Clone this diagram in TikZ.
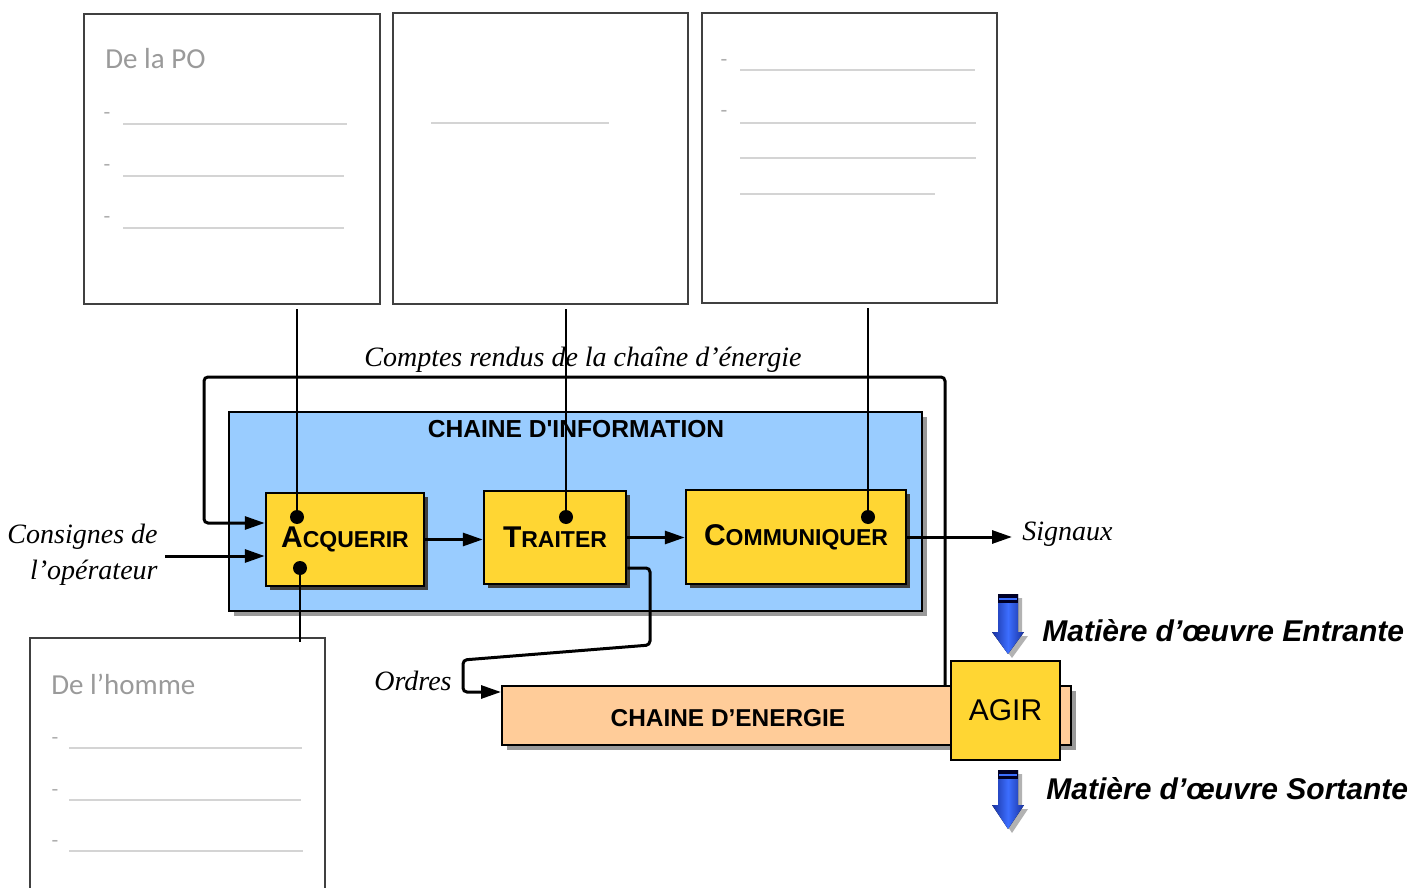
\documentclass[tikz,border=0pt]{standalone}
\usepackage{fontspec}
\setsansfont{Liberation Sans}
\newfontfamily\calib{Carlito}
\newfontfamily\tms{Liberation Serif}
\usetikzlibrary{positioning,shadows,arrows.meta,calc}

\definecolor{infoblue}{HTML}{99CCFF}
\definecolor{fnyellow}{HTML}{FFD633}
\definecolor{nrjorange}{HTML}{FFCC99}
\definecolor{hintgray}{HTML}{9A9A9A}
\definecolor{rulegray}{HTML}{D4D4D4}
\definecolor{flowedge}{RGB}{25,50,160}
\definecolor{flowmid}{RGB}{60,110,255}

% fausses petites capitales des fonctions
\newcommand\fsc[2]{{\fontsize{15}{15}\selectfont #1}{\fontsize{11.5}{11.5}\selectfont #2}}

\begin{document}
\begin{tikzpicture}[x=0.5pt, y=-0.5pt, >={Triangle[length=10pt,width=6.5pt]},
  notebox/.style={draw=black!75, line width=1pt, fill=white, inner sep=0pt, anchor=north west},
  blankline/.style={draw=rulegray, line width=1pt},
  hint/.style={text=hintgray, font=\calib\fontsize{14.5}{14.5}\selectfont, anchor=west, inner sep=0pt},
  hintdash/.style={text=hintgray!80, font=\calib\fontsize{11}{11}\selectfont, inner sep=0pt},
  fnbox/.style={draw=black, line width=1.25pt, fill=fnyellow, inner sep=0pt, font=\sffamily\bfseries,
    drop shadow={shadow xshift=2pt, shadow yshift=-2pt, fill=black!75, opacity=1}},
  chainbox/.style={draw=black, line width=0.8pt, inner sep=0pt, anchor=north west,
    drop shadow={shadow xshift=2.5pt, shadow yshift=-2.5pt, fill=black!40, opacity=1}},
  flow/.style={->, line width=1.5pt},
  link/.style={line width=0.75pt},
  joint/.style={circle, fill=black, inner sep=0pt, minimum size=7pt},
  lbl/.style={font=\tms\itshape\fontsize{14}{18}\selectfont, inner sep=0pt},
  matiere/.style={font=\sffamily\bfseries\itshape\fontsize{15}{15}\selectfont, anchor=west, inner sep=0pt},
  supply/.style={left color=flowedge, right color=flowedge, middle color=flowmid}]
  \useasboundingbox (0,0) rectangle (1410,888);

  % 1. Cadres a completer (haut)
  \node[notebox, minimum width=148pt, minimum height=145pt] (po) at (83,13) {};
  \node[notebox, minimum width=147.5pt, minimum height=145.5pt] (trtnote) at (392,12) {};
  \node[notebox, minimum width=147.5pt, minimum height=145pt] (comnote) at (701,12) {};

  \node[hint] (pot) at (105,59) {De la PO};
  \foreach \y/\e in {124/347,176/344,228/344} {
    \node[hintdash] at (107,\y-8) {-};
    \draw[blankline] (123,\y) -- (\e,\y);
  }
  \draw[blankline] (431,123) -- (609,123);
  \foreach \y in {63,114} \node[hintdash] at (724,\y) {-};
  \foreach \y/\e in {70/975,123/976,158/976,194/935}
    \draw[blankline] (740,\y) -- (\e,\y);

  % 2. Cadre a completer (bas)
  \draw[line width=1pt, draw=black!75] (30,888) -- (30,638) -- (325,638) -- (325,888);
  \coordinate (homtop) at (300,642);
  \node[hint] (homt) at (51,684) {De l’homme};
  \foreach \y/\e in {748/302,800/301,851/303} {
    \node[hintdash] at (55,\y-7) {-};
    \draw[blankline] (69,\y) -- (\e,\y);
  }

  % 3. Chaine d'information
  \node[chainbox, fill=infoblue, minimum width=346.5pt, minimum height=99.5pt] (info) at (228,411) {};
  \node[font=\sffamily\bfseries\fontsize{12.3}{12.3}\selectfont, inner sep=0pt] (infot) at (576,429) {CHAINE D\textquotesingle INFORMATION};
  \node[fnbox, minimum width=79pt, minimum height=46.5pt] (acq) at (345,539.5) {\fsc{A}{CQUERIR}};
  \node[fnbox, minimum width=71pt, minimum height=46.5pt] (trt) at (555,537.5) {\fsc{T}{RAITER}};
  \node[fnbox, minimum width=110pt, minimum height=47pt] (com) at (796,537) {\fsc{C}{OMMUNIQUER}};

  % 4. Chaine d'energie
  \node[chainbox, fill=nrjorange, minimum width=284.5pt, minimum height=29.5pt] (nrj) at (501,685) {};
  \node[font=\sffamily\bfseries\fontsize{12.2}{12.2}\selectfont, inner sep=0pt] (nrjt) at (728,718) {CHAINE D’ENERGIE};
  \node[draw=black, line width=1.25pt, fill=fnyellow, inner sep=0pt, minimum width=54.5pt, minimum height=49.5pt,
        font=\sffamily\fontsize{15}{15}\selectfont] (agir) at (1005.5,710.5) {\raisebox{-1.5pt}{AGIR}};

  % 5. Textes
  \node[lbl] (crt) at (583,360) {Comptes rendus de la chaîne d’énergie};
  \node[lbl, align=right, anchor=east] (csgt) at (158,555) {Consignes de\\l’opérateur};
  \node[lbl, anchor=west] (sig) at (1022,534) {Signaux};
  \node[lbl, anchor=east] (ordt) at (452,681) {Ordres};
  \node[matiere] (mde) at (1042,631) {Matière d’œuvre Entrante};
  \node[matiere] (mds) at (1046,789) {Matière d’œuvre Sortante};

  % 6. Liaisons
  \coordinate (fbin) at (204,523);
  \draw[flow, rounded corners=2pt] (nrj.north -| 945,0) -- (945,377) -- (204,377) -- (fbin) -- (fbin -| acq.west);
  \coordinate (csg) at (165,556);
  \draw[flow] (csg) -- (csg -| acq.west);
  \draw[flow] (acq.east) -- (acq.east -| trt.west);
  \draw[flow] (trt.east) -- (trt.east -| com.west);
  \draw[flow, shorten >=5pt] (com.east) -- (com.east -| sig.west);
  \coordinate (ordbend) at (650,568);
  \coordinate (ordin) at (463,692);
  \draw[flow, rounded corners=2pt] (ordbend -| trt.east) -- (ordbend) -- (650,645) -- (463,660) -- (ordin) -- (ordin -| nrj.west);

  % 7. Matiere d'oeuvre (fleches bleues)
  \foreach \t/\h/\p in {594/632/654, 770/805/829} {
    \fill[black!30, shift={(4,4)}] (998,\t) -- (1018,\t) -- (1018,\h) -- (1024,\h) -- (1008,\p) -- (992,\h) -- (998,\h) -- cycle;
    \fill[supply] (998,\t) -- (1018,\t) -- (1018,\h) -- (1024,\h) -- (1008,\p) -- (992,\h) -- (998,\h) -- cycle;
    \fill[black!85!blue] (998,\t) rectangle (1018,\t+9);
    \draw[flowmid, line width=0.6pt] (999,\t+5) -- (1017,\t+5);
  }

  % 8. Renvois vers les cadres
  \node[joint] (jacq) at (297,517) {};
  \node[joint] (jtrt) at (566,517) {};
  \node[joint] (jcom) at (868,517) {};
  \node[joint] (jhom) at (300,568) {};
  \draw[link] ($(po.south -| jacq)+(0,4)$) -- (jacq);
  \draw[link] ($(trtnote.south -| jtrt)+(0,4)$) -- (jtrt);
  \draw[link] ($(comnote.south -| jcom)+(0,4)$) -- (jcom);
  \draw[link] (jhom) -- (homtop);
\end{tikzpicture}
\end{document}
